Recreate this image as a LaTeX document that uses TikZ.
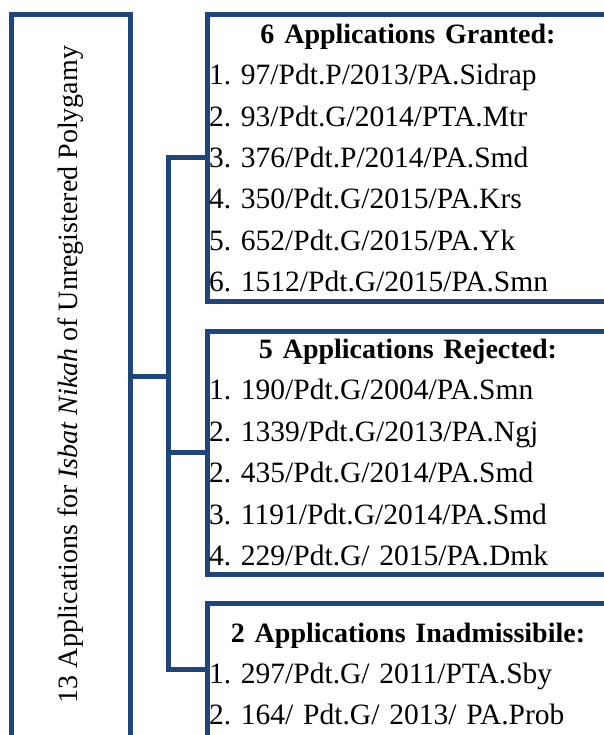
\documentclass[tikz,border=0pt]{standalone}
\usepackage{fontspec}
\setmainfont{Liberation Serif}
\definecolor{navy}{RGB}{31,70,120}
\newcommand{\listhead}[1]{\makebox[\linewidth]{\fontsize{28}{41.4}\selectfont\bfseries #1}}

\begin{document}
\begin{tikzpicture}[x=1pt,y=-1pt,
    every node/.style={draw=navy,line width=5pt,outer sep=0pt},
    list/.style={anchor=north west,text width=398pt,inner xsep=2pt,inner ysep=0pt,
        align=left,font=\fontsize{29.5}{41.4}\selectfont\frenchspacing},
    link/.style={draw=navy,line width=5pt}]
    \useasboundingbox (0,0) rectangle (604,735);
    \clip (0,0) rectangle (604,735);

    \node[rotate=90,minimum width=735pt,minimum height=119pt,inner sep=0pt,
        font=\fontsize{28}{34}\selectfont] (total) at (70.5,382.5)
        {\hspace*{16pt}13 Applications for \textit{Isbat Nikah} of Unregistered Polygamy};

    \node[list,minimum height=286pt] (granted) at (207,15) {\listhead{6 Applications Granted:}\\
        1. 97/Pdt.P/2013/PA.Sidrap\\
        2. 93/Pdt.G/2014/PTA.Mtr\\
        3. 376/Pdt.P/2014/PA.Smd\\
        4. 350/Pdt.G/2015/PA.Krs\\
        5. 652/Pdt.G/2015/PA.Yk\\
        6. 1512/Pdt.G/2015/PA.Smn};
    \node[list,minimum height=243pt] (rejected) at (207,331) {\listhead{5 Applications Rejected:}\\
        1. 190/Pdt.G/2004/PA.Smn\\
        2. 1339/Pdt.G/2013/PA.Ngj\\
        2. 435/Pdt.G/2014/PA.Smd\\
        3. 1191/Pdt.G/2014/PA.Smd\\
        4. 229/Pdt.G/ 2015/PA.Dmk};
    \node[list,minimum height=142pt] (inadm) at (207,603) {\listhead{2 Applications Inadmissibile:}\\
        1. 297/Pdt.G/ 2011/PTA.Sby\\
        2. 164/ Pdt.G/ 2013/ PA.Prob};

    \coordinate (fork) at (168,376);
    \coordinate (bottom) at (168,669);

    \draw[link]
        (granted.west) -| (bottom) -- (inadm.west |- bottom)
        (total.south |- fork) -- (fork)
        (bottom |- rejected.west) -- (rejected.west);
\end{tikzpicture}
\end{document}
